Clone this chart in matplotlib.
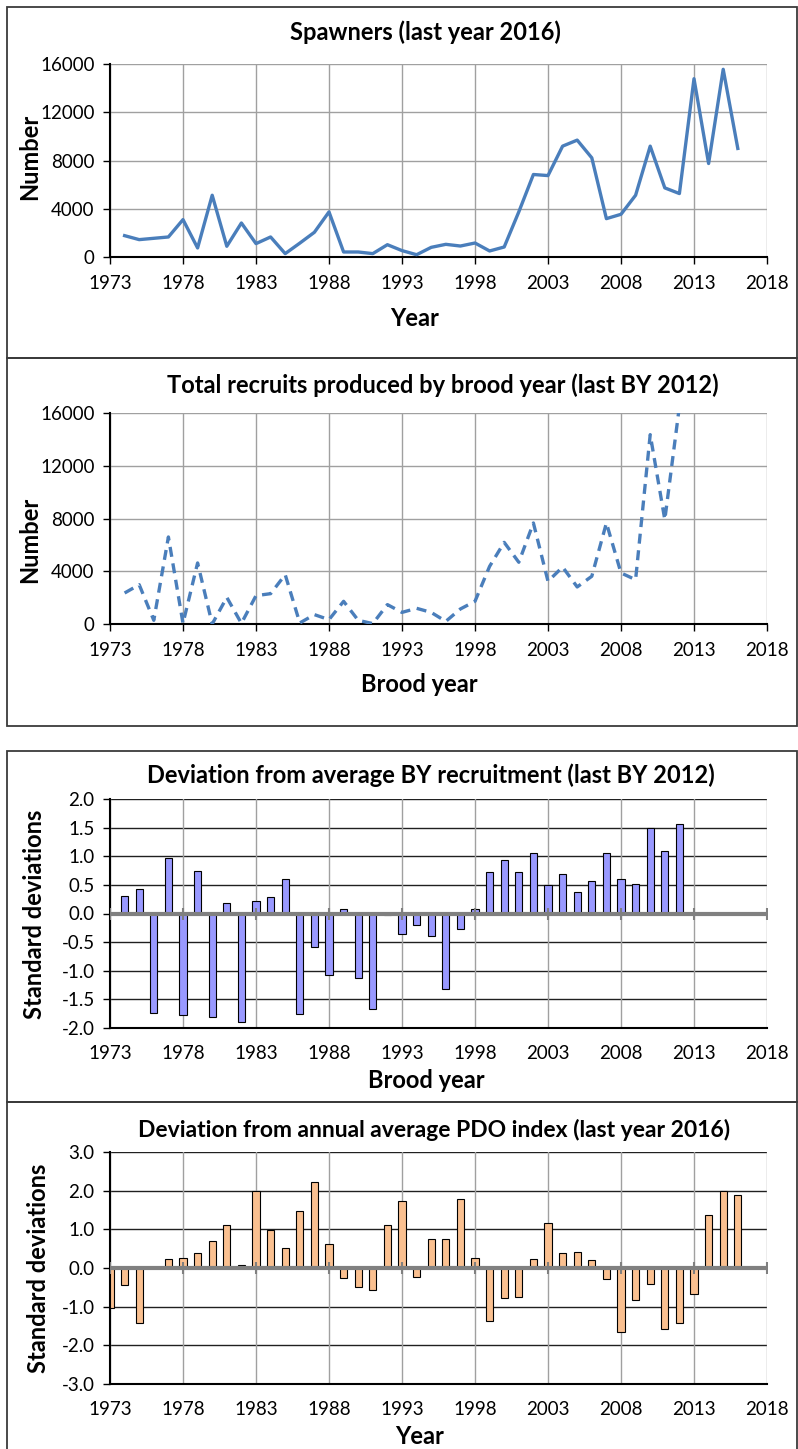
import matplotlib
matplotlib.use('Agg')
import matplotlib.pyplot as plt
from matplotlib.patches import Rectangle
import numpy as np

plt.rcParams['font.family'] = ['Lato', 'DejaVu Sans']

# ---- data ----
spawn_years = list(range(1974, 2017))
spawners = [1770, 1440, 1550, 1660, 3100, 750, 5120, 890, 2820, 1110,
            1660, 280, 1150, 2050, 3740, 415, 415, 280, 1020, 530,
            190, 800, 1050, 910, 1160, 500, 830, 3740, 6840, 6750,
            9190, 9690, 8220, 3180, 3540, 5120, 9190, 5730, 5260, 14780,
            7750, 15560, 9000]

brood_years = list(range(1974, 2013))
recruits = [2350, 2980, 280, 6600, 50, 4630, 0, 2020, 50, 2150,
            2300, 3740, 80, 710, 330, 1720, 280, 30, 1470, 880,
            1190, 880, 200, 1140, 1720, 4370, 6190, 4680, 7660, 3240,
            4320, 2810, 3620, 7660, 3870, 3360, 14360, 7910, 16500]

recruit_dev = [0.30, 0.43, -1.74, 0.97, -1.78, 0.74, -1.81, 0.19, -1.89, 0.21,
               0.28, 0.60, -1.76, -0.58, -1.08, 0.08, -1.12, -1.67, -0.03, -0.36,
               -0.20, -0.40, -1.32, -0.27, 0.08, 0.72, 0.93, 0.72, 1.06, 0.49,
               0.69, 0.38, 0.56, 1.06, 0.60, 0.51, 1.50, 1.10, 1.57]

pdo_years = list(range(1973, 2017))
pdo_dev = [-1.03, -0.45, -1.42, 0.0, 0.23, 0.26, 0.39, 0.71, 1.10, 0.09,
           2.00, 0.99, 0.52, 1.48, 2.23, 0.61, -0.26, -0.49, -0.58, 1.10,
           1.72, -0.23, 0.74, 0.74, 1.78, 0.26, -1.36, -0.77, -0.75, 0.23,
           1.17, 0.39, 0.42, 0.20, -0.29, -1.66, -0.82, -0.42, -1.59, -1.42,
           -0.68, 1.36, 2.00, 1.88]

xticks = list(range(1973, 2019, 5))

W, H = 798, 1449
fig = plt.figure(figsize=(W / 100, H / 100), dpi=100)

TITLE = 17
LABEL = 17
TICK = 13.5


def px_axes(x0, y0, x1, y1):
    return fig.add_axes([x0 / W, 1 - y1 / H, (x1 - x0) / W, (y1 - y0) / H])


def ftext(x, y, s, **kw):
    fig.text(x / W, 1 - y / H, s, ha='center', va='center', **kw)


def frame(y0, y1):
    fig.add_artist(Rectangle((7 / W, 1 - y1 / H), (797 - 7) / W, (y1 - y0) / H,
                             transform=fig.transFigure, fill=False,
                             edgecolor='#3a3a3a', linewidth=1.3))


def style(ax, ylim, yticks, yfmt, hgrid_color):
    ax.set_xlim(1973, 2018)
    ax.set_ylim(*ylim)
    ax.set_xticks(xticks)
    ax.set_yticks(yticks)
    ax.set_yticklabels([yfmt % v for v in yticks])
    ax.tick_params(axis='both', labelsize=TICK, length=5, width=1, color='black')
    ax.tick_params(axis='y', pad=6)
    ax.tick_params(axis='x', pad=8)
    for t in yticks:
        ax.axhline(t, color=hgrid_color, lw=1, zorder=0)
    for t in xticks:
        ax.axvline(t, color='#a0a0a0', lw=1, zorder=0)
    for s in ['top', 'right']:
        ax.spines[s].set_visible(False)
    ax.spines['left'].set_linewidth(1.5)
    ax.spines['bottom'].set_linewidth(1.5)
    ax.set_axisbelow(True)


frame(7, 358)
frame(358, 726)
frame(751, 1102)
frame(1102, 1450)

# panel 1: spawners
ax1 = px_axes(110, 64, 767, 257)
style(ax1, (0, 16000), [0, 4000, 8000, 12000, 16000], '%d', '#a0a0a0')
ax1.plot(spawn_years, spawners, color='#4a7ebb', lw=2.4, zorder=3)
ftext(425, 32, 'Spawners (last year 2016)', fontsize=TITLE, fontweight='bold')
ftext(415, 318, 'Year', fontsize=LABEL, fontweight='bold')
ftext(30, 157, 'Number', fontsize=LABEL, fontweight='bold', rotation=90)

# panel 2: recruits
ax2 = px_axes(110, 413, 767, 624)
style(ax2, (0, 16000), [0, 4000, 8000, 12000, 16000], '%d', '#a0a0a0')
ax2.plot(brood_years, recruits, color='#4a7ebb', lw=2.4, ls=(0, (3, 2)), zorder=3)
ftext(443, 385, 'Total recruits produced by brood year (last BY 2012)',
      fontsize=TITLE, fontweight='bold')
ftext(419, 685, 'Brood year', fontsize=LABEL, fontweight='bold')
ftext(30, 540, 'Number', fontsize=LABEL, fontweight='bold', rotation=90)

# panel 3: recruitment deviation
ax3 = px_axes(110, 799, 767, 1028)
style(ax3, (-2, 2), [-2.0, -1.5, -1.0, -0.5, 0.0, 0.5, 1.0, 1.5, 2.0], '%.1f', '#202020')
ax3.bar(brood_years, recruit_dev, width=0.5, color='#9999ff', edgecolor='black',
        linewidth=0.8, zorder=2)
ax3.axhline(0, color='#808080', lw=3, zorder=4)
ax3.plot(xticks, [0] * len(xticks), ls='none', marker='|', ms=9, mew=1.5,
         color='#808080', zorder=4)
ax3.tick_params(axis='x', length=0, pad=12)
ftext(431, 775, 'Deviation from average BY recruitment (last BY 2012)',
      fontsize=TITLE, fontweight='bold')
ftext(426, 1080, 'Brood year', fontsize=LABEL, fontweight='bold')
ftext(35, 914, 'Standard deviations', fontsize=LABEL, fontweight='bold', rotation=90)

# panel 4: PDO deviation
ax4 = px_axes(110, 1152, 767, 1384)
style(ax4, (-3, 3), [-3.0, -2.0, -1.0, 0.0, 1.0, 2.0, 3.0], '%.1f', '#202020')
ax4.bar(pdo_years, pdo_dev, width=0.5, color='#fac090', edgecolor='black',
        linewidth=0.8, zorder=2)
ax4.axhline(0, color='#808080', lw=3, zorder=4)
ax4.plot(xticks, [0] * len(xticks), ls='none', marker='|', ms=9, mew=1.5,
         color='#808080', zorder=4)
ax4.tick_params(axis='x', length=0, pad=12)
ftext(434, 1130, 'Deviation from annual average PDO index (last year 2016)',
      fontsize=TITLE - 0.5, fontweight='bold')
ftext(420, 1437, 'Year', fontsize=LABEL, fontweight='bold')
ftext(39, 1268, 'Standard deviations', fontsize=LABEL, fontweight='bold', rotation=90)

fig.savefig('out.png', dpi=100)
